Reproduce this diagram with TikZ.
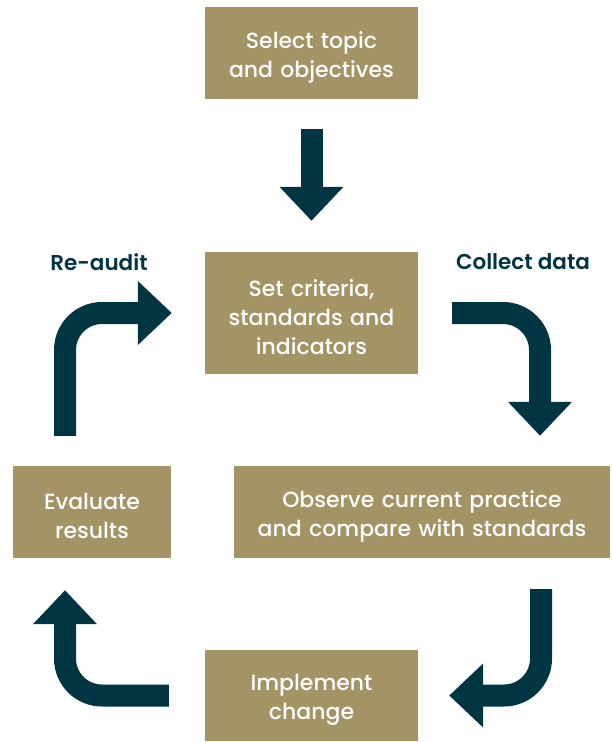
\documentclass[tikz,border=0pt]{standalone}
\usepackage{fontspec}
\setmainfont{Poppins}[UprightFont=* Medium, BoldFont=* SemiBold]
\usetikzlibrary{arrows.meta}
\definecolor{boxtan}{RGB}{164,147,101}
\definecolor{arrowteal}{RGB}{2,53,66}
\tikzset{
  stagebox/.style={fill=boxtan, text=white, align=center, inner sep=0pt,
    font=\fontsize{22}{29}\selectfont, execute at begin node={\rule{0pt}{25pt}}},
  bigarrow/.style={draw=arrowteal, line width=22pt, line cap=butt,
    rounded corners=37pt, -{Triangle[width=62pt,length=34pt]}},
  steplabel/.style={text=arrowteal, font=\fontsize{21.5}{24}\selectfont\bfseries}
}
\begin{document}
\begin{tikzpicture}[x=1pt,y=-1pt]
% \clip (0,0) rectangle (611,742);
\useasboundingbox (0,0) rectangle (611,742);

% Drawing the stage boxes
\node [stagebox, text width=213pt, minimum height=92pt] (sel) at (311.5,53) {Select topic\\and objectives};
\node [stagebox, text width=213pt, minimum height=122pt] (crit) at (311.5,313) {Set criteria,\\standards and\\indicators};
\node [stagebox, text width=376pt, minimum height=92pt] (obs) at (422,512) {Observe current practice\\and compare with standards};
\node [stagebox, text width=158pt, minimum height=92pt] (eval) at (92,512) {Evaluate\\results};
\node [stagebox, text width=213pt, minimum height=91pt] (impl) at (311.5,695.5) {Implement\\change};

% Drawing the labels
\node [steplabel] (reaudit) at (99,262) {Re-audit};
\node [steplabel] (collect) at (523,262) {Collect data};

% Drawing the arrows
\draw [bigarrow] ([yshift=-30pt]sel.south) -- ([yshift=31pt]crit.north);
\draw [bigarrow] ([xshift=34pt]crit.east) -| ([xshift=118pt,yshift=30pt]obs.north);
\draw [bigarrow] ([xshift=119pt,yshift=-31pt]obs.south) |- ([xshift=31pt]impl.east);
\draw [bigarrow] ([xshift=-36pt]impl.west) -| ([xshift=-27pt,yshift=-32pt]eval.south);
\draw [bigarrow] ([xshift=-27pt,yshift=30pt]eval.north) |- ([xshift=-33pt]crit.west);
\end{tikzpicture}
\end{document}
